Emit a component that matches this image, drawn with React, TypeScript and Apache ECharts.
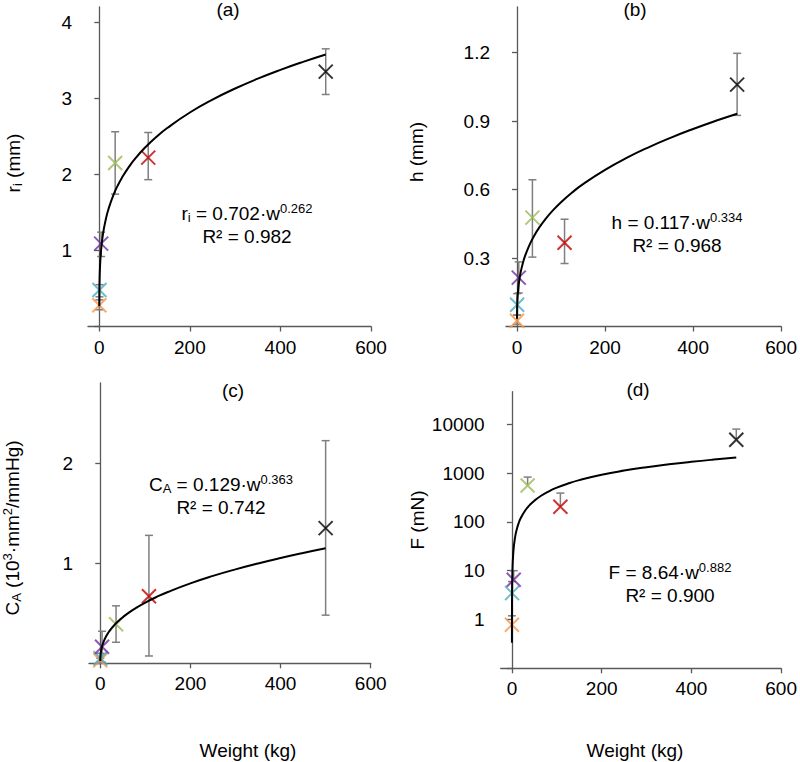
import React, { useEffect, useRef } from "react";
import * as echarts from "echarts";

const FONT = "'Liberation Sans', Arial, sans-serif";

// Animal groups
const groupColors = ["#F79646", "#4BACC6", "#7030A0", "#9BBB59", "#C00000", "#000000"];
const weights = [0.03, 0.3, 4, 35, 108, 500];

// (a) inner radius r_i (mm)
const riVals = [0.28, 0.48, 1.09, 2.15, 2.22, 3.35];
const riLow = [0.22, 0.39, 0.92, 1.74, 1.93, 3.05];
const riHigh = [0.35, 0.55, 1.24, 2.56, 2.55, 3.65];

// (b) wall thickness h (mm)
const hVals = [0.025, 0.095, 0.214, 0.477, 0.367, 1.06];
const hLow = [0.01, 0.05, 0.147, 0.304, 0.276, 0.925];
const hHigh = [0.05, 0.144, 0.283, 0.643, 0.47, 1.197];

// (c) compliance C_A
const caVals = [0.03, 0.05, 0.165, 0.39, 0.67, 1.35];
const caLow = [0.01, 0.0, 0.01, 0.21, 0.073, 0.481];
const caHigh = [0.05, 0.1, 0.32, 0.574, 1.278, 2.224];

// (d) force F (mN), log axis, upper error only
const fVals = [0.78, 3.47, 6.5, 557, 204, 4800];
const fHigh = [1.19, 6.0, 10, 828, 389, 7960];

// power-law trend lines y = a * w^b (as drawn)
const fitA = [0.702, 0.117, 0.0975, 8.64];
const fitB = [0.262, 0.334, 0.397, 0.882];
const fitW = [0.025, 0.05, 0.1, 0.2, 0.35, 0.5, 0.75, 1, 1.5, 2, 3, 4, 5, 7.5, 10, 15, 20, 30, 40, 50, 65, 80, 100, 125, 150, 200, 250, 300, 350, 400, 450, 500];

const xTicks = [0, 200, 400, 600];

const eqLine1 = [
  "{n|r}{sub|i}{n| = 0.702·w}{sup|0.262}",
  "{n|h = 0.117·w}{sup|0.334}",
  "{n|C}{sub|A}{n| = 0.129·w}{sup|0.363}",
  "{n|F = 8.64·w}{sup|0.882}",
];
const eqLine2 = ["R² = 0.982", "R² = 0.968", "R² = 0.742", "R² = 0.900"];
const panelTitles = ["(a)", "(b)", "(c)", "(d)"];
const yNames = [
  "{n|r}{sub|i}{n| (mm)}",
  "{n|h (mm)}",
  "{n|C}{sub|A}{n| (10}{sup|3}{n|·mm}{sup|2}{n|/mmHg)}",
  "{n|F (mN)}",
];

const rich = {
  n: { fontSize: 19, fontFamily: FONT, color: "#000", lineHeight: 22 },
  sub: { fontSize: 13, fontFamily: FONT, color: "#000", lineHeight: 13, verticalAlign: "bottom" },
  sup: { fontSize: 13, fontFamily: FONT, color: "#000", lineHeight: 13, verticalAlign: "top" },
};

export default function App() {
  const ref = useRef<HTMLDivElement>(null);
  useEffect(() => {
    if (!ref.current) return;
    const chart = echarts.init(ref.current, null, { renderer: "svg" });

    const grids = [
      { left: 88, top: 7, width: 283, height: 319.5 },
      { left: 506, top: 7, width: 277.3, height: 319.5 },
      { left: 89, top: 383, width: 281.7, height: 280.3 },
      { left: 500.7, top: 391.7, width: 282.6, height: 276.6 },
    ];

    const axisLine = { show: true, lineStyle: { color: "#595959", width: 1.3 } };
    const tickStyle = { color: "#595959", width: 1.3 };
    const labelBase = { fontSize: 19, fontFamily: FONT, color: "#000" };

    const xAxes = grids.map((_, i) => ({
      type: "value",
      gridIndex: i,
      min: -25,
      max: 600,
      axisLine,
      splitLine: { show: false },
      axisTick: { show: true, inside: false, length: 5, lineStyle: tickStyle, customValues: xTicks },
      axisLabel: { ...labelBase, margin: 11, customValues: xTicks },
    }));

    const yCfg = [
      { min: 0, max: 4.2, labels: [1, 2, 3, 4], ticks: [0, 1, 2, 3, 4], fmt: (v: number) => String(v) },
      { min: 0, max: 1.4, labels: [0.3, 0.6, 0.9, 1.2], ticks: [0, 0.3, 0.6, 0.9, 1.2], fmt: (v: number) => v.toFixed(1) },
      { min: 0, max: 2.8, labels: [1, 2], ticks: [0, 1, 2], fmt: (v: number) => String(v) },
      { min: 0.1, max: 46500, labels: [1, 10, 100, 1000, 10000], ticks: [0.1, 1, 10, 100, 1000, 10000], fmt: (v: number) => String(Math.round(v)), log: true },
    ];
    const yAxes = yCfg.map((c, i) => ({
      type: c.log ? "log" : "value",
      logBase: 10,
      gridIndex: i,
      min: c.min,
      max: c.max,
      axisLine,
      splitLine: { show: false },
      axisTick: { show: true, inside: false, length: 5, lineStyle: tickStyle, customValues: c.ticks },
      axisLabel: { ...labelBase, margin: 16, customValues: c.labels, formatter: c.fmt },
    }));

    const valsList = [riVals, hVals, caVals, fVals];
    const lowList = [riLow, hLow, caLow, fVals];
    const highList = [riHigh, hHigh, caHigh, fHigh];

    const series: any[] = [];
    for (let i = 0; i < 4; i++) {
      const hasLow = i < 3 ? 1 : 0;
      series.push({
        type: "custom",
        xAxisIndex: i,
        yAxisIndex: i,
        silent: true,
        z: 2,
        encode: { x: 0, y: [1, 2] },
        data: weights.map((w, k) => [w, lowList[i][k], highList[i][k], hasLow]),
        renderItem: (params: any, api: any) => {
          const x = api.value(0);
          const lo = api.value(1);
          const hi = api.value(2);
          const capLo = api.value(3);
          const pt = api.coord([x, hi]);
          const pb = api.coord([x, lo]);
          const cw = 4;
          const style = { stroke: "#7f7f7f", lineWidth: 1.5, fill: "none" };
          const children: any[] = [
            { type: "line", shape: { x1: pt[0], y1: pt[1], x2: pb[0], y2: pb[1] }, style },
            { type: "line", shape: { x1: pt[0] - cw, y1: pt[1], x2: pt[0] + cw, y2: pt[1] }, style },
          ];
          if (capLo) {
            children.push({ type: "line", shape: { x1: pb[0] - cw, y1: pb[1], x2: pb[0] + cw, y2: pb[1] }, style });
          }
          return { type: "group", children };
        },
      });
      series.push({
        type: "scatter",
        xAxisIndex: i,
        yAxisIndex: i,
        silent: true,
        z: 3,
        symbol: "path://M0,0L10,10M10,0L0,10",
        symbolSize: 14,
        data: weights.map((w, k) => ({
          value: [w, valsList[i][k]],
          itemStyle: { color: groupColors[k], borderColor: groupColors[k], borderWidth: 2 },
        })),
      });
      series.push({
        type: "line",
        xAxisIndex: i,
        yAxisIndex: i,
        silent: true,
        z: 4,
        showSymbol: false,
        symbol: "none",
        smooth: true,
        lineStyle: { color: "#000", width: 2 },
        data: fitW.map((w) => [w, fitA[i] * Math.pow(w, fitB[i])]),
      });
    }

    const titlePos = [
      [228, 9],
      [635, 9],
      [233, 390],
      [638, 389],
    ];
    const eqPos = [
      [247, 213, 236],
      [677, 222, 245],
      [221, 484, 507],
      [670, 572, 595],
    ];
    const yNamePos = [
      [13, 163],
      [416, 152],
      [12, 528],
      [417, 520],
    ];

    const graphic: any[] = [];
    for (let i = 0; i < 4; i++) {
      graphic.push({
        type: "text",
        x: titlePos[i][0],
        y: titlePos[i][1],
        style: { text: panelTitles[i], font: `19px ${FONT}`, fill: "#000", align: "center", verticalAlign: "middle" },
      });
      graphic.push({
        type: "text",
        x: eqPos[i][0],
        y: eqPos[i][1],
        style: { text: eqLine1[i], rich, align: "center", verticalAlign: "middle" },
      });
      graphic.push({
        type: "text",
        x: eqPos[i][0],
        y: eqPos[i][2],
        style: { text: eqLine2[i], font: `19px ${FONT}`, fill: "#000", align: "center", verticalAlign: "middle" },
      });
      graphic.push({
        type: "text",
        x: yNamePos[i][0],
        y: yNamePos[i][1],
        rotation: Math.PI / 2,
        style: { text: yNames[i], rich, align: "center", verticalAlign: "middle" },
      });
    }
    graphic.push({
      type: "text",
      x: 248,
      y: 750,
      style: { text: "Weight (kg)", font: `19px ${FONT}`, fill: "#000", align: "center", verticalAlign: "middle" },
    });
    graphic.push({
      type: "text",
      x: 635,
      y: 750,
      style: { text: "Weight (kg)", font: `19px ${FONT}`, fill: "#000", align: "center", verticalAlign: "middle" },
    });

    chart.setOption({
      animation: false,
      backgroundColor: "#ffffff",
      grid: grids,
      xAxis: xAxes,
      yAxis: yAxes,
      series,
      graphic,
    });
    return () => chart.dispose();
  }, []);
  return (
    <div
      ref={ref}
      style={{ position: "absolute", left: 0, top: 0, width: 800, height: 762 }}
    />
  );
}
